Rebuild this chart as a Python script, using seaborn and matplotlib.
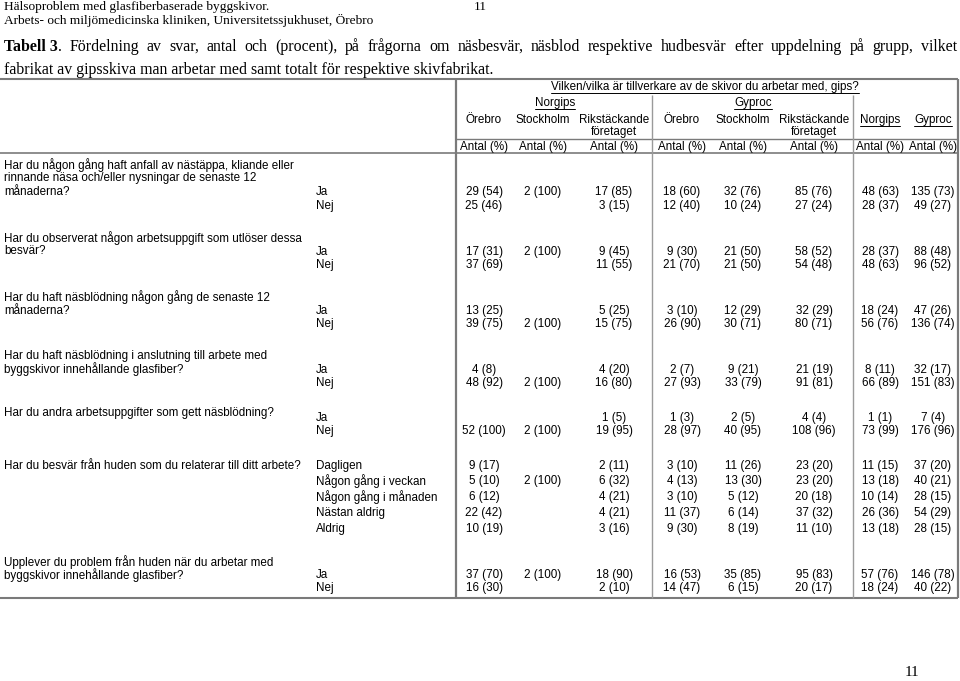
import matplotlib
matplotlib.use("Agg")
import matplotlib.pyplot as plt
import seaborn as sns

# ------------------------------------------------------------------
# data
# ------------------------------------------------------------------
page_header = ["Hälsoproblem med glasfiberbaserade byggskivor.",
               "Arbets- och miljömedicinska kliniken, Universitetssjukhuset, Örebro"]
page_number = "11"
caption_bold = "Tabell 3"
caption_rest = [". Fördelning av svar, antal och (procent), på frågorna om näsbesvär, näsblod respektive "
                "hudbesvär efter uppdelning på grupp, vilket",
                "fabrikat av gipsskiva man arbetar med samt totalt för respektive skivfabrikat."]

super_header = "Vilken/vilka är tillverkare av de skivor du arbetar med, gips?"
group_headers = ["Norgips", "Gyproc"]
sub_headers = ["Örebro", "Stockholm", "Rikstäckande\nföretaget",
               "Örebro", "Stockholm", "Rikstäckande\nföretaget"]
total_headers = ["Norgips", "Gyproc"]
unit_label = "Antal (%)"

questions = [
    "Har du någon gång haft anfall av nästäppa, kliande eller\nrinnande näsa och/eller nysningar de senaste 12\nmånaderna?",
    "Har du observerat någon arbetsuppgift som utlöser dessa\nbesvär?",
    "Har du haft näsblödning någon gång de senaste 12\nmånaderna?",
    "Har du haft näsblödning i anslutning till arbete med\nbyggskivor innehållande glasfiber?",
    "Har du andra arbetsuppgifter som gett näsblödning?",
    "Har du besvär från huden som du relaterar till ditt arbete?",
    "Upplever du problem från huden när du arbetar med\nbyggskivor innehållande glasfiber?",
]

answers = [
    ["Ja", "Nej"],
    ["Ja", "Nej"],
    ["Ja", "Nej"],
    ["Ja", "Nej"],
    ["Ja", "Nej"],
    ["Dagligen", "Någon gång i veckan", "Någon gång i månaden", "Nästan aldrig", "Aldrig"],
    ["Ja", "Nej"],
]

values = [
    [["29 (54)", "2 (100)", "17 (85)", "18 (60)", "32 (76)", "85 (76)", "48 (63)", "135 (73)"],
     ["25 (46)", "", "3 (15)", "12 (40)", "10 (24)", "27 (24)", "28 (37)", "49 (27)"]],
    [["17 (31)", "2 (100)", "9 (45)", "9 (30)", "21 (50)", "58 (52)", "28 (37)", "88 (48)"],
     ["37 (69)", "", "11 (55)", "21 (70)", "21 (50)", "54 (48)", "48 (63)", "96 (52)"]],
    [["13 (25)", "", "5 (25)", "3 (10)", "12 (29)", "32 (29)", "18 (24)", "47 (26)"],
     ["39 (75)", "2 (100)", "15 (75)", "26 (90)", "30 (71)", "80 (71)", "56 (76)", "136 (74)"]],
    [["4 (8)", "", "4 (20)", "2 (7)", "9 (21)", "21 (19)", "8 (11)", "32 (17)"],
     ["48 (92)", "2 (100)", "16 (80)", "27 (93)", "33 (79)", "91 (81)", "66 (89)", "151 (83)"]],
    [["", "", "1 (5)", "1 (3)", "2 (5)", "4 (4)", "1 (1)", "7 (4)"],
     ["52 (100)", "2 (100)", "19 (95)", "28 (97)", "40 (95)", "108 (96)", "73 (99)", "176 (96)"]],
    [["9 (17)", "", "2 (11)", "3 (10)", "11 (26)", "23 (20)", "11 (15)", "37 (20)"],
     ["5 (10)", "2 (100)", "6 (32)", "4 (13)", "13 (30)", "23 (20)", "13 (18)", "40 (21)"],
     ["6 (12)", "", "4 (21)", "3 (10)", "5 (12)", "20 (18)", "10 (14)", "28 (15)"],
     ["22 (42)", "", "4 (21)", "11 (37)", "6 (14)", "37 (32)", "26 (36)", "54 (29)"],
     ["10 (19)", "", "3 (16)", "9 (30)", "8 (19)", "11 (10)", "13 (18)", "28 (15)"]],
    [["37 (70)", "2 (100)", "18 (90)", "16 (53)", "35 (85)", "95 (83)", "57 (76)", "146 (78)"],
     ["16 (30)", "", "2 (10)", "14 (47)", "6 (15)", "20 (17)", "18 (24)", "40 (22)"]],
]

# ------------------------------------------------------------------
# layout (pixels on a 960 x 681 page)
# ------------------------------------------------------------------
col_x = [484, 543, 614, 682, 743, 814, 880, 933]
group_x = [555, 753]
answer_x = 316
question_y = [165, 238, 297, 356, 413, 466, 562]
answer_y = [[192, 206], [252, 265], [311, 324], [370, 383], [418, 431],
            [466, 481, 497, 513, 529], [575, 588]]
LINE = 13.5

SANS = "Liberation Sans"
SERIF = "Liberation Serif"
FS = 8.4          # body text, points
CAP = 11.45       # caption, points
GRID = "#7a7a7a"

sns.set_theme(style="white")

fig = plt.figure(figsize=(9.6, 6.81), dpi=100)
ax = fig.add_axes([0, 0, 1, 1])
ax.set_xlim(0, 960)
ax.set_ylim(681, 0)
ax.axis("off")


def txt(x, y, s, ha="left", size=FS, family=SANS, **kw):
    return ax.text(x, y, s, ha=ha, va="center", fontsize=size, family=family, color="black", **kw)


def width(t):
    fig.canvas.draw()
    bb = t.get_window_extent().transformed(ax.transData.inverted())
    return bb.x0, bb.x1


def underline(t, dy=6):
    x0, x1 = width(t)
    y = t.get_position()[1] + dy
    ax.plot([x0, x1], [y, y], color="black", lw=0.7)


def justified(x0, x1, y, s, size, family):
    # spread words so the line fills x0..x1 (the source text is justified)
    words = s.split(" ")
    arts = [txt(x0, y, w, size=size, family=family) for w in words]
    widths = [width(a)[1] - width(a)[0] for a in arts]
    gap = (x1 - x0 - sum(widths)) / (len(words) - 1)
    x = x0
    for a, w in zip(arts, widths):
        a.set_x(x)
        x += w + gap


# ---------------- page header ----------------
txt(4, 7, page_header[0], size=9.6, family=SERIF)
txt(4, 20, page_header[1], size=9.6, family=SERIF)
txt(480, 7, page_number, ha="center", size=9.6, family=SERIF)
txt(912, 673, page_number, ha="center", size=11, family=SERIF)

bold = txt(4, 47, caption_bold, size=CAP, family=SERIF, fontweight="bold")
bx = width(bold)[1]
justified(bx, 957, 47, caption_rest[0], CAP, SERIF)
txt(4, 70, caption_rest[1], size=CAP, family=SERIF)

# ---------------- table grid ----------------
ax.hlines([79], 0, 958, color=GRID, lw=1.5)
ax.hlines([139], 456, 958, color=GRID, lw=1.0)
ax.hlines([153], 0, 958, color=GRID, lw=1.2)
ax.hlines([598], 0, 958, color=GRID, lw=1.5)
ax.vlines([456, 958], 79, 598, color=GRID, lw=1.6)
ax.vlines([652, 853], 95, 598, color="#9a9a9a", lw=1.0)

# ---------------- column headers ----------------
underline(txt(705, 87, super_header, ha="center"), dy=5.5)
for gx, g in zip(group_x, group_headers):
    underline(txt(gx, 103, g, ha="center"))
for cx, h in zip(col_x[:6], sub_headers):
    for i, part in enumerate(h.split("\n")):
        txt(cx, 120 + i * 12.5, part, ha="center")
for cx, h in zip(col_x[6:], total_headers):
    underline(txt(cx, 120, h, ha="center"))
for cx in col_x:
    txt(cx, 147, unit_label, ha="center")

# ---------------- body ----------------
for q, qy, ans, ays, vals in zip(questions, question_y, answers, answer_y, values):
    for i, line in enumerate(q.split("\n")):
        txt(4, qy + i * LINE, line)
    for a, ay, row in zip(ans, ays, vals):
        txt(answer_x, ay, a)
        for cx, v in zip(col_x, row):
            if v:
                txt(cx, ay, v, ha="center")

fig.savefig("out.png", dpi=100)
